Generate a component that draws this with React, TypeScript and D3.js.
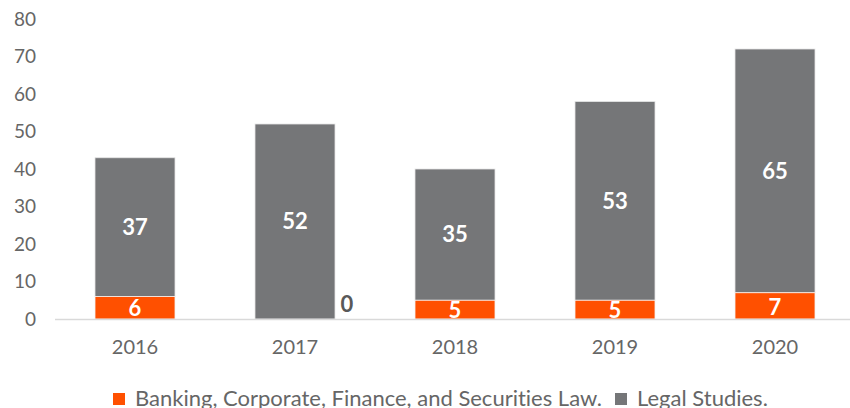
import { useRef, useEffect } from 'react';
import * as d3 from 'd3';

const years = ['2016', '2017', '2018', '2019', '2020'];
const banking = [6, 0, 5, 5, 7];
const legal = [37, 52, 35, 53, 65];
const seriesNames = ['Banking, Corporate, Finance, and Securities Law.', 'Legal Studies.'];
const yTicks = [0, 10, 20, 30, 40, 50, 60, 70, 80];

const ORANGE = '#ff5000';
const GREY = '#757678';

export default function App() {
  const svgRef = useRef<SVGSVGElement>(null);

  useEffect(() => {
    if (!svgRef.current) return;
    const svg = d3.select(svgRef.current);
    svg.selectAll('*').remove();

    const x = d3.scaleBand().domain(years).range([55, 855]).paddingInner(0.5).paddingOuter(0.25);
    const y = d3.scaleLinear().domain([0, 80]).range([319, 19]);
    const font = 'Lato, sans-serif';

    // y tick labels
    svg.append('g')
      .selectAll('text')
      .data(yTicks)
      .join('text')
      .attr('x', 36)
      .attr('y', (d) => y(d))
      .attr('dy', '0.35em')
      .attr('text-anchor', 'end')
      .attr('fill', '#666')
      .style('font-family', font)
      .style('font-size', '19px')
      .text((d) => d);

    const rows = years.map((yr, i) => ({ yr, b: banking[i], l: legal[i] }));

    // legal studies (top segment)
    svg.append('g')
      .selectAll('rect')
      .data(rows)
      .join('rect')
      .attr('x', (d) => x(d.yr)!)
      .attr('y', (d) => y(d.b + d.l))
      .attr('width', x.bandwidth())
      .attr('height', (d) => y(d.b) - y(d.b + d.l))
      .attr('fill', GREY)
      .attr('stroke', '#e6e6e6')
      .attr('stroke-width', 0.8);

    // banking (bottom segment)
    svg.append('g')
      .selectAll('rect')
      .data(rows.filter((d) => d.b > 0))
      .join('rect')
      .attr('x', (d) => x(d.yr)!)
      .attr('y', (d) => y(d.b))
      .attr('width', x.bandwidth())
      .attr('height', (d) => y(0) - y(d.b))
      .attr('fill', ORANGE)
      .attr('stroke', '#f3f3f3')
      .attr('stroke-width', 0.8);

    // axis line
    svg.append('line')
      .attr('x1', 55)
      .attr('x2', 850)
      .attr('y1', y(0) + 0.5)
      .attr('y2', y(0) + 0.5)
      .attr('stroke', '#d9d9d9')
      .attr('stroke-width', 1.5);

    // x tick labels
    svg.append('g')
      .selectAll('text')
      .data(years)
      .join('text')
      .attr('x', (d) => x(d)! + x.bandwidth() / 2)
      .attr('y', 354)
      .attr('text-anchor', 'middle')
      .attr('fill', '#666')
      .style('font-family', font)
      .style('font-size', '20px')
      .text((d) => d);

    // data labels
    const labels = svg.append('g')
      .style('font-family', font)
      .style('font-size', '22px')
      .style('font-weight', 'bold')
      .attr('text-anchor', 'middle');

    labels.selectAll('text.l')
      .data(rows)
      .join('text')
      .attr('class', 'l')
      .attr('x', (d) => x(d.yr)! + x.bandwidth() / 2)
      .attr('y', (d) => (y(d.b) + y(d.b + d.l)) / 2)
      .attr('dy', '0.35em')
      .attr('fill', '#fff')
      .text((d) => d.l);

    labels.selectAll('text.b')
      .data(rows)
      .join('text')
      .attr('class', 'b')
      .attr('x', (d) => (d.b > 0 ? x(d.yr)! + x.bandwidth() / 2 : x(d.yr)! + x.bandwidth() + 12))
      .attr('y', (d) => (d.b > 0 ? (y(0) + y(d.b)) / 2 + 1 : y(0) - 15))
      .attr('dy', '0.35em')
      .attr('fill', (d) => (d.b > 0 ? '#fff' : '#595959'))
      .text((d) => d.b);

    // legend
    const legend = svg.append('g')
      .style('font-family', font)
      .style('font-size', '22px')
      .style('font-variant-ligatures', 'none');
    const lx = [113, 615];
    const colors = [ORANGE, GREY];
    seriesNames.forEach((name, i) => {
      legend.append('rect').attr('x', lx[i]).attr('y', 393).attr('width', 12).attr('height', 12).attr('fill', colors[i]);
      legend.append('text')
        .attr('x', lx[i] + 22)
        .attr('y', 406)
        .attr('fill', '#666')
        .text(name);
    });
  }, []);

  return (
    <svg
      ref={svgRef}
      width={850}
      height={408}
      style={{ position: 'absolute', left: 0, top: 0, background: '#fff' }}
    />
  );
}
